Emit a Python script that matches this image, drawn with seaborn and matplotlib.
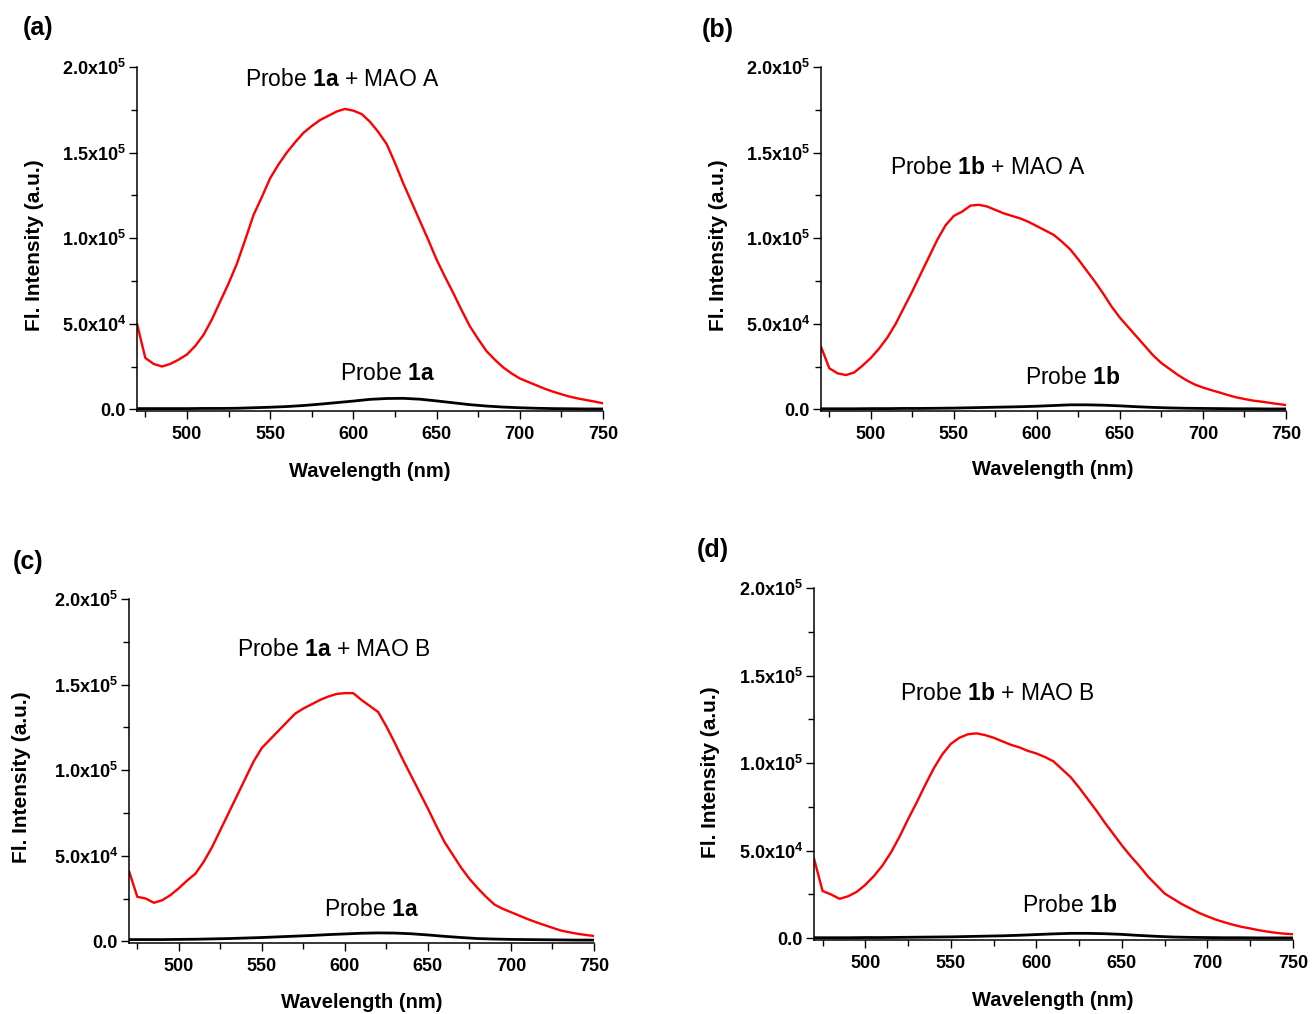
import numpy as np
import pandas as pd
import matplotlib
matplotlib.use("Agg")
import matplotlib.pyplot as plt
import seaborn as sns
from matplotlib.ticker import MultipleLocator, FuncFormatter

sns.set_style("ticks")
plt.rcParams['font.family'] = ['Liberation Sans', 'DejaVu Sans']
plt.rcParams['mathtext.fontset'] = 'custom'
plt.rcParams['mathtext.rm'] = 'Liberation Sans'
plt.rcParams['mathtext.bf'] = 'Liberation Sans:bold'
plt.rcParams['mathtext.default'] = 'regular'
for key in ('text.color', 'axes.labelcolor', 'xtick.color', 'ytick.color', 'axes.edgecolor'):
    plt.rcParams[key] = 'black'

# ---------------- data ----------------
wl_red = list(range(470, 755, 5))
wl_black = list(range(470, 760, 10))

red_a = [50000, 30000, 26500, 25000, 26500, 29000, 32000, 37000, 43500, 52500,
         63000, 73500, 85000, 99000, 113500, 124000, 135000, 143000, 150000, 156000,
         161500, 165500, 169000, 171500, 174000, 175500, 174500, 172500, 168000, 162000,
         155000, 144000, 132000, 121000, 110000, 99000, 87500, 77500, 68000, 58000,
         48500, 41000, 34000, 29000, 24500, 21000, 18000, 16000, 14000, 12000,
         10300, 8800, 7400, 6300, 5400, 4500, 3500]
black_a = [400, 400, 400, 400, 500, 500, 600, 900, 1200, 1600, 2200, 3000, 3900, 4800,
           5800, 6300, 6400, 5900, 4900, 3800, 2700, 1900, 1300, 900, 600, 400, 300, 200, 200]

red_b = [36500, 24000, 21000, 20000, 21500, 25500, 30000, 35500, 42000, 50000,
         59500, 69000, 79000, 89000, 99000, 107500, 113000, 115500, 119000, 119500,
         118500, 116500, 114500, 113000, 111500, 109500, 107000, 104500, 102000, 98000,
         93500, 87500, 81000, 74500, 67500, 60000, 53500, 48000, 42500, 37000,
         31500, 27000, 23500, 20000, 17000, 14500, 12700, 11200, 9800, 8300,
         7000, 6000, 5100, 4500, 3800, 3100, 2500]
black_b = [300, 300, 300, 400, 400, 500, 500, 600, 700, 900, 1100, 1300, 1500, 1800,
           2200, 2600, 2600, 2400, 2000, 1500, 1100, 800, 600, 500, 400, 300, 300, 200, 200]

red_c = [41000, 26000, 25000, 22500, 24000, 27000, 31000, 35500, 39500, 46500,
         55000, 65000, 75000, 85000, 95000, 105000, 113000, 118000, 123000, 128000,
         133000, 136000, 138500, 141000, 143000, 144500, 145000, 145000, 141000, 137500,
         134000, 125500, 116000, 106000, 96500, 87000, 77500, 67500, 58000, 50500,
         43000, 36500, 31000, 26000, 21500, 19000, 17000, 15000, 13000, 11200,
         9500, 7900, 6300, 5300, 4400, 3700, 3100]
black_c = [1000, 1000, 1000, 1100, 1200, 1400, 1600, 1900, 2200, 2600, 3000, 3400, 3900, 4300,
           4700, 4900, 4800, 4400, 3700, 2900, 2200, 1600, 1300, 1100, 1000, 900, 800, 700, 700]

red_d = [45500, 27000, 25000, 22500, 24000, 26500, 30500, 35500, 41500, 49000,
         58000, 68000, 77500, 87500, 97000, 105000, 111000, 114500, 116500, 117000,
         116000, 114500, 112500, 110500, 109000, 107000, 105500, 103500, 101000, 96500,
         92000, 86000, 79500, 73000, 66000, 59500, 53000, 47000, 41500, 35500,
         30500, 25500, 22500, 19500, 17000, 14500, 12500, 10600, 9100, 7700,
         6500, 5600, 4600, 3800, 3100, 2600, 2300]
black_d = [300, 300, 300, 400, 400, 500, 600, 700, 800, 1000, 1200, 1400, 1700, 2100,
           2500, 2800, 2800, 2600, 2200, 1600, 1100, 700, 500, 400, 300, 300, 200, 200, 200]

panel_letters = ["(a)", "(b)", "(c)", "(d)"]
enzyme_labels = [r"Probe $\mathbf{1a}$ + MAO A", r"Probe $\mathbf{1b}$ + MAO A",
                 r"Probe $\mathbf{1a}$ + MAO B", r"Probe $\mathbf{1b}$ + MAO B"]
probe_labels = [r"Probe $\mathbf{1a}$", r"Probe $\mathbf{1b}$",
                r"Probe $\mathbf{1a}$", r"Probe $\mathbf{1b}$"]
x_label = "Wavelength (nm)"
y_label = "Fl. Intensity (a.u.)"

reds = [red_a, red_b, red_c, red_d]
blacks = [black_a, black_b, black_c, black_d]

# ---------------- layout ----------------
W, H = 1312, 1014
fig = plt.figure(figsize=(W / 100, H / 100), dpi=100)

# axes boxes in pixels: left, top, right, bottom
boxes = [(137, 67, 603, 411), (821, 67, 1286, 411),
         (129, 599, 594, 943), (814, 588, 1293, 940)]
enz_pos = [(342, 79), (988, 168), (334, 650), (997, 694)]
probe_pos = [(387, 374), (1073, 378), (371, 910), (1070, 905)]
letter_pos = [(38, 28), (718, 30), (28, 562), (713, 550)]
ylab_pos = [(35, 245), (719, 245), (22, 777), (710, 772)]
xlab_pos = [(370, 472), (1053, 470), (362, 1002), (1053, 1000)]


def yfmt(v, pos):
    if abs(v) < 1:
        return "0.0"
    e = int(np.floor(np.log10(abs(v))))
    m = v / 10 ** e
    return f"{m:.1f}x10$^{{{e}}}$"


for i in range(4):
    l, t, r, b = boxes[i]
    ax = fig.add_axes([l / W, 1 - b / H, (r - l) / W, (b - t) / H])
    df_r = pd.DataFrame({"wl": wl_red, "I": reds[i]})
    df_b = pd.DataFrame({"wl": wl_black, "I": blacks[i]})
    sns.lineplot(data=df_r, x="wl", y="I", ax=ax, color="#ff0000", lw=1.7)
    sns.lineplot(data=df_b, x="wl", y="I", ax=ax, color="black", lw=2.0)
    ax.set_xlim(470, 750)
    ax.set_ylim(-1000, 200000)
    ax.set_xlabel("")
    ax.set_ylabel("")
    sns.despine(ax=ax)
    for s in ("left", "bottom"):
        ax.spines[s].set_linewidth(1.1)
        ax.spines[s].set_color("black")
    ax.xaxis.set_major_locator(MultipleLocator(50))
    ax.xaxis.set_minor_locator(MultipleLocator(25))
    ax.yaxis.set_major_locator(MultipleLocator(50000))
    ax.yaxis.set_minor_locator(MultipleLocator(25000))
    ax.yaxis.set_major_formatter(FuncFormatter(yfmt))
    ax.tick_params(which="major", length=6, width=1.0, direction="out", color="black")
    ax.tick_params(which="minor", length=4, width=1.0, direction="out", color="black")
    ax.tick_params(axis="x", labelsize=13, pad=5, labelcolor="black")
    ax.tick_params(axis="y", labelsize=13, pad=2, labelcolor="black")
    for lab in ax.get_xticklabels() + ax.get_yticklabels():
        lab.set_fontweight("bold")

    fig.text(enz_pos[i][0] / W, 1 - enz_pos[i][1] / H, enzyme_labels[i],
             fontsize=16.5, ha="center", va="center", color="black")
    fig.text(probe_pos[i][0] / W, 1 - probe_pos[i][1] / H, probe_labels[i],
             fontsize=16.5, ha="center", va="center", color="black")
    fig.text(letter_pos[i][0] / W, 1 - letter_pos[i][1] / H, panel_letters[i],
             fontsize=18, fontweight="bold", ha="center", va="center", color="black")
    fig.text(ylab_pos[i][0] / W, 1 - ylab_pos[i][1] / H, y_label,
             fontsize=15, fontweight="bold", ha="center", va="center", rotation=90,
             color="black")
    fig.text(xlab_pos[i][0] / W, 1 - xlab_pos[i][1] / H, x_label,
             fontsize=14.5, fontweight="bold", ha="center", va="center", color="black")

fig.savefig("out.png", dpi=100, facecolor="white")
